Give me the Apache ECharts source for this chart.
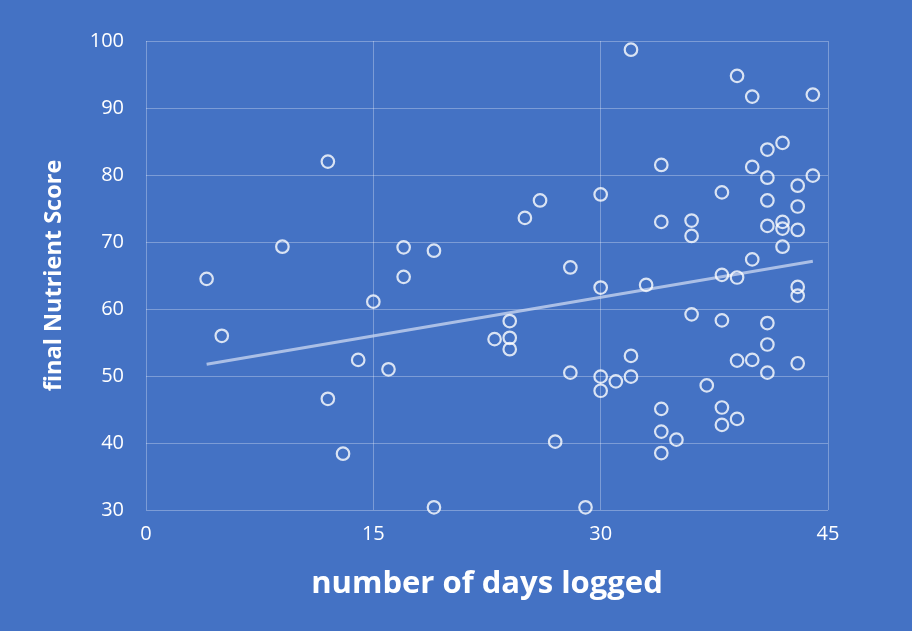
<!DOCTYPE html>
<html><head><meta charset="utf-8">
<script src="https://cdn.jsdelivr.net/npm/echarts@6/dist/echarts.min.js"></script>
<style>html,body{margin:0;padding:0;background:#4472C4;}#c{width:912px;height:631px;}</style>
</head><body><div id="c"></div>
<script>
const daysLogged = [4,5,9,12,12,13,14,15,16,17,17,19,19,23,24,24,24,25,26,28,28,27,29,30,30,30,30,31,32,32,32,33,34,34,34,34,34,35,36,36,36,37,38,38,38,38,38,39,39,39,39,40,40,40,40,41,41,41,41,41,41,41,42,42,42,42,43,43,43,43,43,43,44,44];
const nutrientScore = [64.5,56.0,69.3,82.0,46.6,38.4,52.4,61.1,51.0,69.2,64.8,68.7,30.4,55.5,58.2,55.7,54.0,73.6,76.2,66.2,50.5,40.2,30.4,77.1,63.2,49.9,47.8,49.2,49.9,53.0,98.7,63.6,81.5,73.0,45.1,41.7,38.5,40.5,73.2,70.9,59.2,48.6,77.4,65.1,58.3,45.3,42.7,94.8,64.7,52.3,43.6,91.7,81.2,67.4,52.4,83.8,79.6,76.2,72.4,57.9,54.7,50.5,84.8,73.0,72.0,69.3,78.4,75.3,71.8,63.3,62.0,51.9,92.0,79.9];
const xTicks = [0,15,30,45];
const yTicks = [30,40,50,60,70,80,90,100];

const pts = daysLogged.map((d,i)=>[d,nutrientScore[i]]);
// least-squares trendline (as in the original spreadsheet chart)
const n = pts.length;
const mx = daysLogged.reduce((a,b)=>a+b,0)/n;
const my = nutrientScore.reduce((a,b)=>a+b,0)/n;
let sxy=0,sxx=0;
for(let i=0;i<n;i++){sxy+=(daysLogged[i]-mx)*(nutrientScore[i]-my);sxx+=(daysLogged[i]-mx)**2;}
const slope=sxy/sxx, icpt=my-slope*mx;
const xmin=Math.min(...daysLogged), xmax=Math.max(...daysLogged);
const trend=[[xmin,icpt+slope*xmin],[xmax,icpt+slope*xmax]];

const font='"Open Sans", "Noto Sans", sans-serif';
const chart = echarts.init(document.getElementById('c'),null,{renderer:'canvas'});
chart.setOption({
  backgroundColor:'#4472C4',
  animation:false,
  grid:{left:146,right:84,top:41,bottom:121,containLabel:false},
  xAxis:{type:'value',min:xTicks[0],max:xTicks[xTicks.length-1],interval:15,
    name:'number of days logged',nameLocation:'middle',nameGap:59,
    nameTextStyle:{color:'#fff',fontSize:31,fontWeight:'bold',fontFamily:font},
    axisLine:{show:false},axisTick:{show:false},
    axisLabel:{color:'#fff',fontSize:20,fontFamily:font,margin:14},
    splitLine:{show:true,lineStyle:{color:'rgba(255,255,255,0.3)',width:1}}},
  yAxis:{type:'value',min:yTicks[0],max:yTicks[yTicks.length-1],interval:10,
    name:'final Nutrient Score',nameLocation:'middle',nameGap:80,
    nameTextStyle:{color:'#fff',fontSize:23.5,fontWeight:'bold',fontFamily:font},
    axisLine:{show:false},axisTick:{show:false},
    axisLabel:{color:'#fff',fontSize:20,fontFamily:font,margin:22},
    splitLine:{show:true,lineStyle:{color:'rgba(255,255,255,0.3)',width:1}}},
  series:[
    {type:'line',data:trend,symbol:'none',lineStyle:{color:'rgba(205,218,242,0.75)',width:3},z:2,silent:true},
    {type:'scatter',data:pts,symbol:'circle',symbolSize:12.5,
      itemStyle:{color:'rgba(0,0,0,0)',borderColor:'#fff',borderWidth:2.2},z:3}
  ]
});
</script></body></html>
